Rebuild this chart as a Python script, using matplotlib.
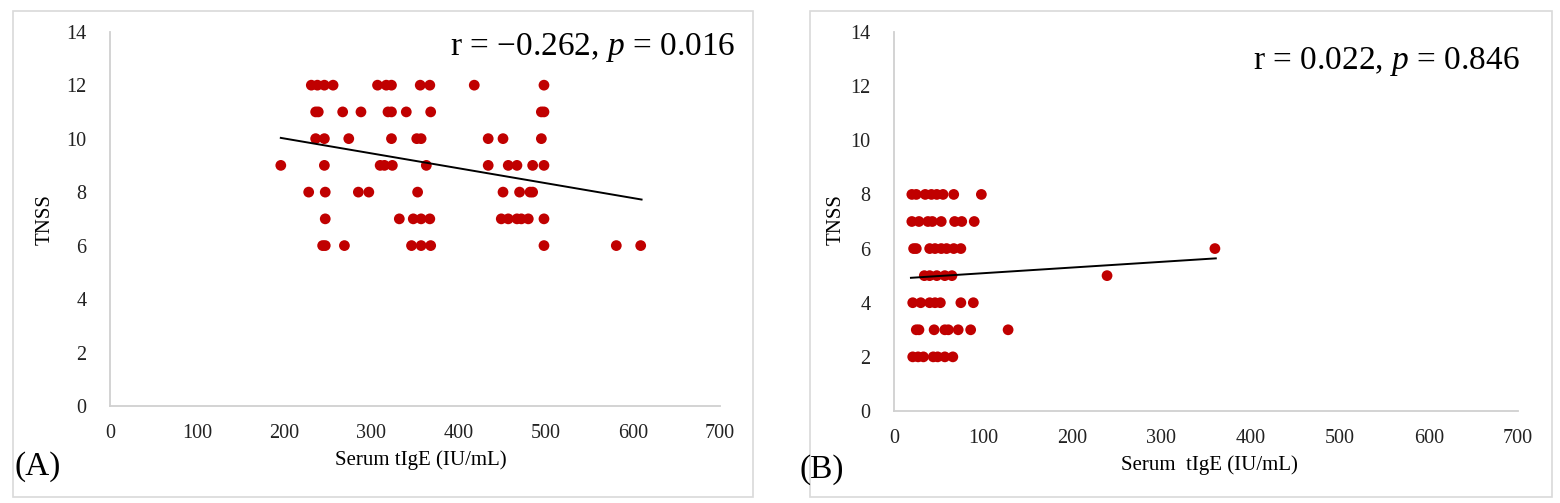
import matplotlib
matplotlib.use("Agg")
import matplotlib.pyplot as plt
from matplotlib.patches import Rectangle
import numpy as np

plt.rcParams['font.family'] = ['Liberation Serif', 'DejaVu Serif']
plt.rcParams['mathtext.fontset'] = 'custom'
plt.rcParams['mathtext.rm'] = 'Liberation Serif'
plt.rcParams['mathtext.it'] = 'Liberation Serif:italic'

# ---- data: panel A ----
a_x = [231, 238, 246, 256, 307, 317, 323, 356, 367, 418, 498,
       236, 239, 267, 288, 319, 323, 340, 368, 495, 498,
       236, 246, 274, 323, 352, 357, 434, 451, 495,
       196, 246, 310, 315, 324, 363, 434, 457, 467, 485, 498,
       228, 247, 285, 297, 353, 451, 470, 482, 485,
       247, 332, 348, 357, 367, 449, 457, 467, 472, 480, 498,
       244, 247, 269, 346, 357, 368, 498, 581, 609]
a_y = [12] * 11 + [11] * 10 + [10] * 9 + [9] * 11 + [8] * 9 + [7] * 11 + [6] * 9
a_trend_slope = -0.00557
a_trend_intercept = 11.12
a_trend_range = [196, 610]
a_label = "r = \u22120.262, $\\it{p}$ = 0.016"

# ---- data: panel B ----
b_x = [20, 25, 35, 42, 48, 55, 67, 98,
       20, 28, 38, 43, 53, 68, 76, 90,
       22, 25, 40, 46, 53, 59, 67, 75, 360,
       34, 40, 48, 57, 65, 239,
       21, 30, 40, 46, 52, 75, 89,
       25, 28, 45, 57, 61, 72, 86, 128,
       21, 27, 33, 44, 49, 57, 66]
b_y = [8] * 8 + [7] * 8 + [6] * 9 + [5] * 6 + [4] * 7 + [3] * 8 + [2] * 7
b_trend_slope = 0.0021
b_trend_intercept = 4.88
b_trend_range = [19, 361]
b_label = "r = 0.022, $\\it{p}$ = 0.846"

x_ticks = [0, 100, 200, 300, 400, 500, 600, 700]
y_ticks = [0, 2, 4, 6, 8, 10, 12, 14]
x_title_a = "Serum tIgE (IU/mL)"
x_title_b = "Serum  tIgE (IU/mL)"
y_title = "TNSS"

W, H = 1560, 503
fig = plt.figure(figsize=(W / 100, H / 100), dpi=100)

def fx(px):
    return px / W

def fy(py):
    return 1 - py / H

# panel borders
for (x0, x1) in [(13, 753), (810, 1552)]:
    fig.patches.append(Rectangle((fx(x0), fy(497)), fx(x1 - x0), (497 - 11) / H,
                                 transform=fig.transFigure, fill=False,
                                 edgecolor='#D9D9D9', linewidth=1.2))

dot_color = '#C00000'
spine_color = '#D0D0D0'

def make_panel(rect, xs, ys, slope, intercept, rng):
    ax = fig.add_axes(rect)
    ax.scatter(xs, ys, s=60, color=dot_color, edgecolors='none', zorder=3)
    tx = np.array(rng, dtype=float)
    ax.plot(tx, intercept + slope * tx, color='black', linewidth=1.4, zorder=4)
    ax.set_xlim(0, 700)
    ax.set_ylim(0, 14)
    ax.set_xticks(x_ticks)
    ax.set_yticks(y_ticks)
    ax.tick_params(length=0, labelsize=14.5, colors='#222222')
    ax.tick_params(axis='y', pad=17)
    ax.tick_params(axis='x', pad=13)
    for s in ['top', 'right']:
        ax.spines[s].set_visible(False)
    for s in ['left', 'bottom']:
        ax.spines[s].set_color(spine_color)
        ax.spines[s].set_linewidth(1.3)
    ax.set_facecolor('none')
    return ax

ax_a = make_panel([fx(110), fy(406), fx(720 - 110), (406 - 31.7) / H],
                  a_x, a_y, a_trend_slope, a_trend_intercept, a_trend_range)
ax_b = make_panel([fx(894), fy(411), fx(1518 - 894), (411 - 32) / H],
                  b_x, b_y, b_trend_slope, b_trend_intercept, b_trend_range)

# axis titles
fig.text(fx(421), fy(460), x_title_a, ha='center', va='center', fontsize=15)
fig.text(fx(1209), fy(465), x_title_b, ha='center', va='center', fontsize=15)
fig.text(fx(45), fy(220), y_title, ha='center', va='center', rotation=90, fontsize=15)
fig.text(fx(836), fy(220), y_title, ha='center', va='center', rotation=90, fontsize=15)

# correlation annotations
fig.text(fx(735), fy(47), a_label, ha='right', va='center', fontsize=24)
fig.text(fx(1520), fy(62), b_label, ha='right', va='center', fontsize=24)

# panel letters
fig.text(fx(15), fy(467), "(A)", ha='left', va='center', fontsize=24)
fig.text(fx(800), fy(470), "(B)", ha='left', va='center', fontsize=24)

fig.savefig("out.png", dpi=100)
